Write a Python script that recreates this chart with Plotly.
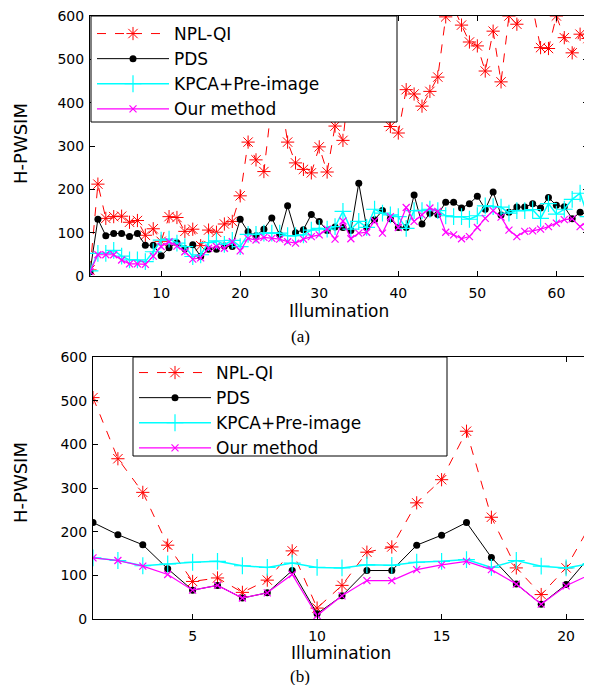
import plotly.graph_objects as go

# ---------------- data: panel (a) ----------------
illum_a = list(range(1, 65))
npl_a = [14, 212, 133, 137, 138, 124, 128, 94, 109, 80,
         137, 135, 103, 108, 70, 106, 101, 120, 126, 185,
         309, 268, 241, 400, 430, 309, 261, 246, 238, 298,
         240, 346, 313, 480, 430, 500, 450, 400, 345, 330,
         430, 420, 392, 426, 459, 598, 620, 579, 540, 531,
         473, 565, 448, 600, 581, 640, 620, 527, 525, 600,
         550, 515, 558, 548]
pds_a = [10, 131, 93, 98, 98, 91, 98, 71, 71, 47,
         65, 77, 63, 72, 45, 62, 62, 69, 68, 131,
         102, 93, 108, 134, 95, 162, 100, 107, 142, 126,
         105, 113, 112, 105, 214, 112, 130, 151, 132, 112,
         112, 187, 120, 145, 142, 170, 170, 157, 167, 184,
         154, 194, 141, 147, 159, 159, 167, 157, 181, 163,
         160, 132, 147, 141]
kpca_a = [12, 52, 52, 59, 46, 37, 37, 33, 56, 83,
          85, 76, 68, 45, 49, 77, 81, 73, 82, 68,
          96, 96, 99, 99, 99, 93, 93, 95, 106, 110,
          108, 114, 149, 108, 126, 112, 154, 145, 141, 137,
          110, 151, 151, 154, 151, 139, 137, 137, 131, 139,
          162, 160, 159, 145, 151, 151, 153, 133, 167, 143,
          154, 177, 191, 137]
ours_a = [10, 49, 49, 49, 37, 28, 28, 27, 46, 68,
          79, 69, 56, 39, 42, 64, 68, 64, 79, 58,
          87, 83, 89, 87, 85, 79, 76, 85, 91, 95,
          108, 85, 127, 86, 99, 101, 127, 99, 137, 112,
          158, 126, 141, 157, 149, 101, 95, 86, 91, 112,
          133, 151, 136, 106, 91, 103, 104, 108, 114, 122,
          130, 132, 114, 126]

# ---------------- data: panel (b) ----------------
illum_b = list(range(1, 22))
npl_b = [507, 367, 290, 169, 86, 94, 61, 89, 156, 25,
         77, 153, 165, 266, 319, 430, 233, 117, 56, 117, 218]
pds_b = [221, 193, 170, 115, 66, 77, 48, 60, 111, 12,
         53, 111, 111, 169, 192, 221, 141, 80, 34, 79, 146]
kpca_b = [140, 134, 122, 126, 130, 132, 122, 118, 128, 118,
          117, 124, 123, 130, 132, 136, 118, 134, 121, 117, 127]
ours_b = [140, 134, 121, 102, 66, 77, 48, 60, 102, 8,
          53, 88, 88, 113, 124, 132, 113, 80, 34, 76, 103]

names = ["NPL-QI", "PDS", "KPCA+Pre-image", "Our method"]
ticks_a = [10, 20, 30, 40, 50, 60]
ticks_b = [5, 10, 15, 20]
ticks_y = [0, 100, 200, 300, 400, 500, 600]

W, H = 592, 685
OFF = 8  # page body margin of the browser
FONT = "DejaVu Sans, Liberation Sans, Arial, sans-serif"

def px_x(p):
    return (p - OFF) / W

def px_y(p):
    return 1 - (p - OFF) / H

styles = [
    dict(line=dict(color="#ff0000", width=1, dash="dash"),
         marker=dict(symbol="asterisk-open", size=11, color="#ff0000",
                     line=dict(color="#ff0000", width=1))),
    dict(line=dict(color="#000000", width=1),
         marker=dict(symbol="circle", size=7, color="#000000")),
    dict(line=dict(color="#00ffff", width=1.5),
         marker=dict(symbol="cross-thin-open", size=12, color="#00ffff",
                     line=dict(color="#00ffff", width=1.2))),
    dict(line=dict(color="#ff00ff", width=1.2),
         marker=dict(symbol="x-thin-open", size=7, color="#ff00ff",
                     line=dict(color="#ff00ff", width=1.2))),
]

fig = go.Figure()
series_a = [npl_a, pds_a, kpca_a, ours_a]
series_b = [npl_b, pds_b, kpca_b, ours_b]
for name, ys, st in zip(names, series_a, styles):
    fig.add_trace(go.Scatter(x=illum_a, y=ys, name=name, mode="lines+markers",
                             xaxis="x", yaxis="y", legend="legend", **st))
for name, ys, st in zip(names, series_b, styles):
    fig.add_trace(go.Scatter(x=illum_b, y=ys, name=name, mode="lines+markers",
                             xaxis="x2", yaxis="y2", legend="legend2", **st))

axis_common = dict(showline=True, linecolor="black", linewidth=1, mirror="ticks",
                   ticks="inside", ticklen=5, tickcolor="black", showgrid=False,
                   zeroline=False, ticklabeloverflow="allow",
                   tickfont=dict(family=FONT, size=14, color="black"))

leg_common = dict(bgcolor="rgba(0,0,0,0)", borderwidth=0,
                  font=dict(family=FONT, size=17, color="black"),
                  xanchor="left", yanchor="top", itemwidth=72,
                  tracegroupgap=0)

fig.update_layout(
    width=W, height=H,
    margin=dict(l=0, r=0, t=0, b=0, autoexpand=False),
    paper_bgcolor="white", plot_bgcolor="white",
    xaxis=dict(domain=[px_x(90), px_x(588)], range=[1, 64], tickvals=ticks_a,
               anchor="y", ticklabelstandoff=4, **axis_common),
    yaxis=dict(domain=[px_y(276), px_y(16)], range=[0, 600], tickvals=ticks_y,
               anchor="x", ticklabelstandoff=2, **axis_common),
    xaxis2=dict(domain=[px_x(93), px_x(591)], range=[1, 21], tickvals=ticks_b,
                anchor="y2", ticklabelstandoff=4, **axis_common),
    yaxis2=dict(domain=[px_y(619), px_y(357)], range=[0, 600], tickvals=ticks_y,
                anchor="x2", ticklabelstandoff=2, **axis_common),
    legend=dict(x=px_x(92), y=px_y(16), **leg_common),
    legend2=dict(x=px_x(134), y=px_y(355), **leg_common),
)

# legend frames (white boxes that cover the data, as in the original)
for (x0, y0, x1, y1) in [(91, 16, 397, 122), (133, 357, 447, 456)]:
    fig.add_shape(type="rect", xref="paper", yref="paper", layer="above",
                  x0=px_x(x0), x1=px_x(x1), y0=px_y(y1), y1=px_y(y0),
                  fillcolor="white", line=dict(color="black", width=1))

ann_font = dict(family=FONT, size=17, color="black")
serif = dict(family="Liberation Serif, Times New Roman, serif", size=17, color="black")
anns = [
    dict(text="Illumination", x=px_x(339), y=px_y(311), font=ann_font),
    dict(text="Illumination", x=px_x(341), y=px_y(653), font=ann_font),
    dict(text="H-PWSIM", x=px_x(20), y=px_y(144), textangle=-90,
         font=dict(family=FONT, size=18, color="black")),
    dict(text="H-PWSIM", x=px_x(20), y=px_y(483), textangle=-90,
         font=dict(family=FONT, size=18, color="black")),
    dict(text="(a)", x=px_x(300), y=px_y(337), font=serif),
    dict(text="(b)", x=px_x(300), y=px_y(676), font=serif),
]
for a in anns:
    fig.add_annotation(xref="paper", yref="paper", showarrow=False,
                       xanchor="center", yanchor="middle", **a)

fig.write_html("out.html")
